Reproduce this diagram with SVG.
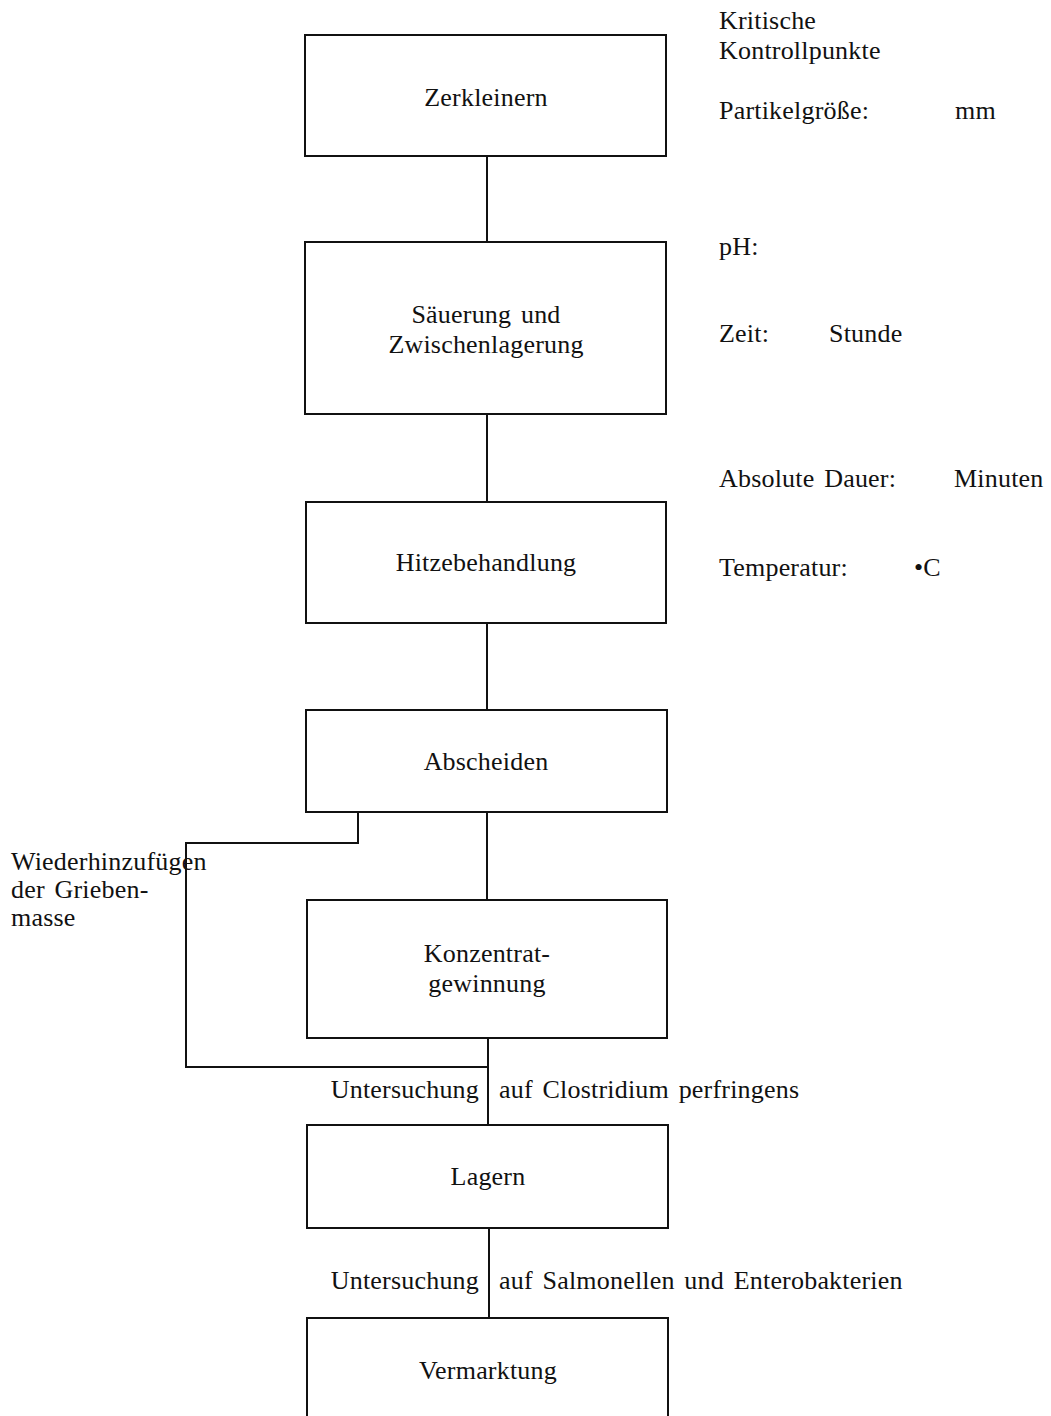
<svg xmlns="http://www.w3.org/2000/svg" width="1051" height="1416" viewBox="0 0 1051 1416">
<style>
text{font-family:"Liberation Serif","DejaVu Serif",serif;font-size:26px;letter-spacing:0.2px;word-spacing:3px;fill:#111}
.c{text-anchor:middle}
.e{text-anchor:end}
.box{fill:#fff;stroke:#111;stroke-width:2}
.ln{fill:none;stroke:#111;stroke-width:2}
</style>
<rect width="1051" height="1416" fill="#fff"/>
<g id="connectors">
<line class="ln" x1="487" y1="156" x2="487" y2="242"/>
<line class="ln" x1="487" y1="414" x2="487" y2="502"/>
<line class="ln" x1="487" y1="623" x2="487" y2="710"/>
<line class="ln" x1="487" y1="812" x2="487" y2="900"/>
<polyline class="ln" points="358,812 358,843 186,843 186,1067 488,1067"/>
<line class="ln" x1="488" y1="1038" x2="488" y2="1125"/>
<line class="ln" x1="489" y1="1228" x2="489" y2="1318"/>
</g>
<g id="n1"><rect class="box" x="305" y="35" width="361" height="121"/><text class="c" x="486" y="106">Zerkleinern</text></g>
<g id="n2"><rect class="box" x="305" y="242" width="361" height="172"/><text class="c" x="486" y="323">Säuerung und</text><text class="c" x="486" y="353">Zwischenlagerung</text></g>
<g id="n3"><rect class="box" x="306" y="502" width="360" height="121"/><text class="c" x="486" y="571">Hitzebehandlung</text></g>
<g id="n4"><rect class="box" x="306" y="710" width="361" height="102"/><text class="c" x="486" y="770">Abscheiden</text></g>
<g id="n5"><rect class="box" x="307" y="900" width="360" height="138"/><text class="c" x="487" y="962">Konzentrat-</text><text class="c" x="487" y="992">gewinnung</text></g>
<g id="n6"><rect class="box" x="307" y="1125" width="361" height="103"/><text class="c" x="488" y="1185">Lagern</text></g>
<g id="n7"><rect class="box" x="307" y="1318" width="361" height="110"/><text class="c" x="488" y="1379">Vermarktung</text></g>
<g id="labels">
<text x="11" y="870">Wiederhinzufügen</text>
<text x="11" y="898">der Grieben-</text>
<text x="11" y="926">masse</text>
<text class="e" x="479" y="1098">Untersuchung</text>
<text x="499" y="1098">auf Clostridium perfringens</text>
<text class="e" x="479" y="1289">Untersuchung</text>
<text x="499" y="1289">auf Salmonellen und Enterobakterien</text>
<text x="719" y="29">Kritische</text>
<text x="719" y="59">Kontrollpunkte</text>
<text x="719" y="119">Partikelgröße:</text>
<text x="955" y="119">mm</text>
<text x="719" y="255">pH:</text>
<text x="719" y="342">Zeit:</text>
<text x="829" y="342">Stunde</text>
<text x="719" y="487">Absolute Dauer:</text>
<text x="954" y="487">Minuten</text>
<text x="719" y="576">Temperatur:</text>
<text x="914" y="576">•C</text>
</g>
</svg>
